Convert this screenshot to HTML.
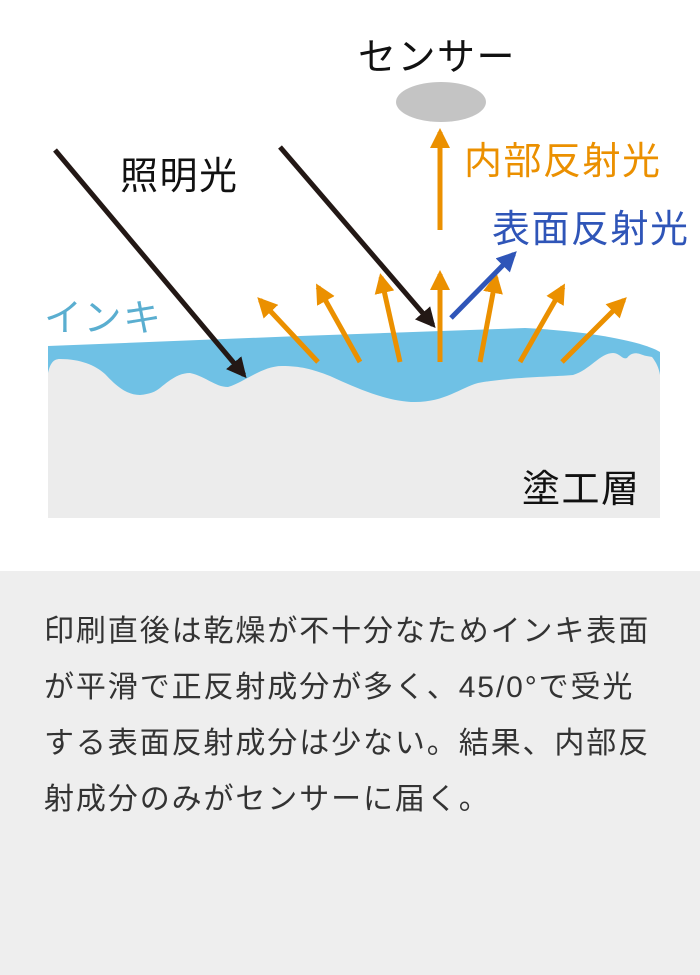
<!DOCTYPE html>
<html><head><meta charset="utf-8"><style>
body{margin:0;width:700px;height:975px;background:#fff;position:relative;overflow:hidden;font-family:"Liberation Sans","Noto Sans CJK JP",sans-serif}
.t{position:absolute;white-space:nowrap;font-size:38px;letter-spacing:1.5px}
.panel{position:absolute;left:0;top:571px;width:700px;height:404px;background:#eeeeee}
.p{position:absolute;left:44px;top:604px;font-size:30px;line-height:56px;color:#333;letter-spacing:1.9px;white-space:nowrap}
</style></head><body>
<svg width="700" height="571" style="position:absolute;left:0;top:0">
<defs>
<marker id="ao" viewBox="0 0 10 10" refX="8" refY="5" markerWidth="4" markerHeight="4" orient="auto"><path d="M0,0L10,5L0,10z" fill="#eb9000"/></marker>
<marker id="ab" viewBox="0 0 10 10" refX="8" refY="5" markerWidth="4" markerHeight="4" orient="auto"><path d="M0,0L10,5L0,10z" fill="#2f55b8"/></marker>
<marker id="ak" viewBox="0 0 10 10" refX="8" refY="5" markerWidth="4" markerHeight="4" orient="auto"><path d="M0,0L10,5L0,10z" fill="#231815"/></marker>
</defs>
<path d="M48,346 L300,336 L525,328 C600,332 645,343 660,352 L660,410 L48,410Z" fill="#6fc1e5"/>
<path d="M48,373 C50,364 53,359 60,359 C80,359 95,365 105,374 C118,388 128,395 140,395 C150,394 155,392 160,388 C172,378 180,373 190,373 C205,376 215,387 228,387 C245,382 262,366 282,366 C300,366 312,369 330,376 C360,390 390,402 415,402 C445,402 460,388 478,383 C510,377 550,377 573,375 C590,370 600,353 613,353 C620,353 622,360 627,358 C630,354 634,352 640,354 C645,356 647,356 652,357 C656,362 659,368 660,375 L660,518 L48,518Z" fill="#ececec"/>
<g stroke="#eb9000" stroke-width="5" marker-end="url(#ao)">
<line x1="318" y1="362" x2="260" y2="300"/>
<line x1="360" y1="362" x2="318" y2="287"/>
<line x1="400" y1="362" x2="381" y2="277"/>
<line x1="440" y1="362" x2="440" y2="274"/>
<line x1="480" y1="362" x2="496" y2="277"/>
<line x1="520" y1="362" x2="563" y2="287"/>
<line x1="562" y1="362" x2="624" y2="300"/>
<line x1="440" y1="230" x2="440" y2="132"/>
</g>
<line x1="451" y1="318" x2="514" y2="254" stroke="#2f55b8" stroke-width="5" marker-end="url(#ab)"/>
<g stroke="#231815" stroke-width="5" marker-end="url(#ak)">
<line x1="55" y1="150" x2="244" y2="375"/>
<line x1="280" y1="147" x2="433" y2="325"/>
</g>
<ellipse cx="441" cy="102" rx="45" ry="20" fill="#c4c4c4"/>
</svg>
<div class="t" style="left:358px;top:26px;color:#111">センサー</div>
<div class="t" style="left:464px;top:130px;color:#eb9000">内部反射光</div>
<div class="t" style="left:492px;top:198px;color:#2f55b8">表面反射光</div>
<div class="t" style="left:120px;top:145px;color:#111">照明光</div>
<div class="t" style="left:44px;top:287px;color:#5aaed0">インキ</div>
<div class="t" style="left:522px;top:458px;color:#111">塗工層</div>
<div class="panel"></div>
<div class="p">印刷直後は乾燥が不十分なためインキ表面<br>が平滑で正反射成分が多く、45/0°で受光<br>する表面反射成分は少ない。結果、内部反<br>射成分のみがセンサーに届く。</div>
</body></html>
